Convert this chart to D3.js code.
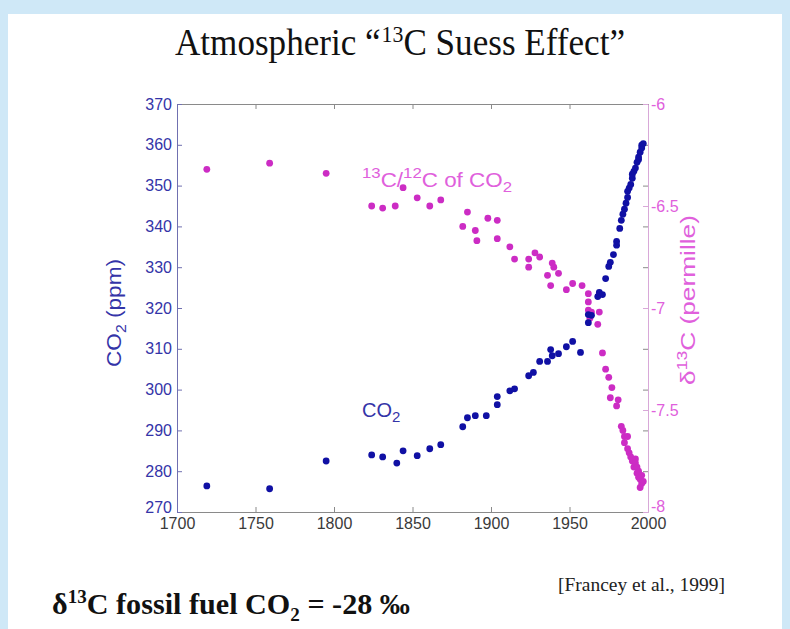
<!DOCTYPE html>
<html>
<head>
<meta charset="utf-8">
<script src="https://cdn.jsdelivr.net/npm/d3@7"></script>
<style>
  html, body { margin: 0; padding: 0; background: #cfe8f7; }
  svg { display: block; }
</style>
</head>
<body>
<svg id="chart" width="790" height="629"></svg>
<script>
// Ice-core / firn / atmospheric CO2 record (ppm)
const co2Years = [1719, 1759, 1795, 1824, 1831, 1840, 1844, 1853, 1861, 1868,
  1882, 1885, 1890, 1897, 1904, 1904, 1912, 1915, 1924, 1927, 1931, 1936, 1938, 1939,
  1943, 1948, 1952, 1957, 1962, 1962, 1964, 1968, 1969, 1971, 1973, 1975, 1976, 1978,
  1980, 1980, 1982, 1983, 1984, 1985, 1986, 1987, 1987, 1988, 1989, 1990, 1990, 1991,
  1992, 1993, 1994, 1994, 1995, 1996, 1996, 1997];
const co2Values = [276.4, 275.7, 282.5, 284.0, 283.5, 282.0, 285.0, 283.8, 285.5, 286.5,
  290.9, 293.1, 293.6, 293.6, 298.3, 296.3, 299.7, 300.2, 303.4, 304.2, 306.9, 306.9, 309.8, 308.3,
  308.8, 310.5, 311.8, 309.1, 316.4, 318.4, 318.2, 322.8, 323.8, 323.3, 327.2, 330.2, 331.2, 333.1,
  335.4, 336.3, 339.5, 341.5, 343.0, 344.2, 345.7, 347.1, 348.6, 349.4, 350.3, 351.8, 352.8, 353.5,
  354.3, 355.7, 356.4, 357.0, 358.2, 359.2, 359.9, 360.3];

// 13C/12C of CO2 expressed as delta-13C (permille)
const d13cYears = [1719, 1759, 1795, 1824, 1831, 1839, 1844, 1853, 1861, 1868,
  1882, 1885, 1890, 1891, 1898, 1904, 1904, 1912, 1915, 1924, 1924, 1928, 1931, 1936,
  1939, 1938, 1940, 1943, 1948, 1952, 1958, 1962, 1962, 1962, 1964, 1963, 1969, 1968,
  1971, 1973, 1975, 1977, 1976, 1981, 1980, 1983, 1984, 1985, 1987, 1985, 1987, 1988,
  1989, 1990, 1992, 1991, 1992, 1994, 1993, 1993, 1994, 1995, 1996, 1995, 1996, 1997];
const d13cValues = [-6.32, -6.29, -6.34, -6.50, -6.51, -6.50, -6.41, -6.46, -6.50, -6.47,
  -6.60, -6.53, -6.62, -6.67, -6.56, -6.57, -6.66, -6.70, -6.76, -6.80, -6.76, -6.73, -6.75, -6.84,
  -6.78, -6.89, -6.80, -6.83, -6.91, -6.88, -6.89, -6.93, -6.97, -7.01, -7.02, -7.05, -7.02, -7.08,
  -7.22, -7.30, -7.34, -7.39, -7.44, -7.45, -7.48, -7.58, -7.60, -7.63, -7.63, -7.66, -7.69, -7.71,
  -7.73, -7.75, -7.74, -7.78, -7.76, -7.80, -7.78, -7.81, -7.83, -7.84, -7.82, -7.88, -7.86, -7.85];

const yearTicks = [1700, 1750, 1800, 1850, 1900, 1950, 2000];
const co2Ticks = [270, 280, 290, 300, 310, 320, 330, 340, 350, 360, 370];
const d13cTicks = [-8, -7.5, -7, -6.5, -6];
const d13cTickLabels = ["-8", "-7.5", "-7", "-6.5", "-6"];

const BLUE = "#1010a4";
const BLUE_TEXT = "#3434a8";
const MAGENTA = "#cc2cc4";
const MAGENTA_TEXT = "#e060dc";

const svg = d3.select("#chart");

// slide background
svg.append("rect").attr("x", 0).attr("y", 0).attr("width", 790).attr("height", 629).attr("fill", "#cfe8f7");
svg.append("rect").attr("x", 8).attr("y", 14).attr("width", 774).attr("height", 615).attr("fill", "#ffffff");

// title
const title = svg.append("text")
  .attr("x", 400).attr("y", 55)
  .attr("text-anchor", "middle")
  .attr("font-family", "Liberation Serif, Times New Roman, serif")
  .attr("font-size", 37)
  .attr("textLength", 450).attr("lengthAdjust", "spacingAndGlyphs")
  .attr("fill", "#111");
title.append("tspan").text("Atmospheric \u201C");
title.append("tspan").attr("font-size", 23).attr("dx", 1).attr("dy", -13).text("13");
title.append("tspan").attr("dy", 13).text("C Suess Effect\u201D");

const plotLeft = 177, plotRight = 648, plotTop = 104, plotBottom = 512;
const x = d3.scaleLinear().domain([1700, 2000]).range([plotLeft, plotRight]);
const yL = d3.scaleLinear().domain([270, 370]).range([plotBottom, plotTop]);
const yR = d3.scaleLinear().domain([-8, -6]).range([plotBottom, plotTop]);

const tickFont = "Liberation Sans, Arial, sans-serif";

function styleAxis(g, lineColor, textColor) {
  g.select(".domain").attr("stroke", lineColor);
  g.selectAll(".tick line").attr("stroke", lineColor);
  g.selectAll(".tick text").attr("fill", textColor)
    .attr("font-family", tickFont).attr("font-size", 16);
}

// top (ticks only)
svg.append("g").attr("transform", `translate(0,${plotTop})`)
  .call(d3.axisTop(x).tickValues(yearTicks).tickSizeInner(-5).tickSizeOuter(0).tickFormat(""))
  .call(g => styleAxis(g, "#8a8a8a", "#333"));

// bottom year axis
svg.append("g").attr("transform", `translate(0,${plotBottom})`)
  .call(d3.axisBottom(x).tickValues(yearTicks).tickSizeInner(-5).tickSizeOuter(0).tickPadding(6).tickFormat(d3.format("d")))
  .call(g => styleAxis(g, "#8a8a8a", "#3a3a3a"));

// left CO2 axis
svg.append("g").attr("transform", `translate(${plotLeft},0)`)
  .call(d3.axisLeft(yL).tickValues(co2Ticks).tickSizeInner(-5).tickSizeOuter(0).tickPadding(5).tickFormat(d3.format("d")))
  .call(g => styleAxis(g, "#7070b0", BLUE_TEXT))
  .call(g => g.selectAll(".tick text").filter(d => d === 270).attr("dy", "0.05em"));

// CO2 ticks repeated on the right edge of the box
svg.append("g").attr("transform", `translate(${plotRight},0)`)
  .call(d3.axisRight(yL).tickValues(co2Ticks.filter(d => d !== 270 && d !== 370)).tickSizeInner(-5).tickSizeOuter(0).tickFormat(""))
  .call(g => g.select(".domain").remove())
  .call(g => g.selectAll(".tick line").attr("stroke", "#8a8a8a"));

// right delta-13C axis
svg.append("g").attr("transform", `translate(${plotRight},0)`)
  .call(d3.axisRight(yR).tickValues(d13cTicks).tickSizeInner(-5).tickSizeOuter(0).tickPadding(3)
    .tickFormat((d, i) => d13cTickLabels[i]))
  .call(g => styleAxis(g, "#d8a8d8", MAGENTA_TEXT))
  .call(g => g.selectAll(".tick text").filter(d => d === -8).attr("dy", "-0.05em"));

// axis titles
const yTitleL = svg.append("text")
  .attr("transform", "translate(121,313) rotate(-90)")
  .attr("text-anchor", "middle")
  .attr("font-family", tickFont).attr("font-size", 20)
  .attr("textLength", 108).attr("lengthAdjust", "spacingAndGlyphs")
  .attr("fill", BLUE_TEXT);
yTitleL.append("tspan").text("CO");
yTitleL.append("tspan").attr("font-size", 14).attr("dy", 5).text("2");
yTitleL.append("tspan").attr("dy", -5).text(" (ppm)");

const yTitleR = svg.append("text")
  .attr("transform", "translate(695,300) rotate(-90)")
  .attr("text-anchor", "middle")
  .attr("font-family", tickFont).attr("font-size", 21)
  .attr("textLength", 170).attr("lengthAdjust", "spacingAndGlyphs")
  .attr("fill", MAGENTA_TEXT);
yTitleR.append("tspan").text("\u03B4");
yTitleR.append("tspan").attr("font-size", 14).attr("dy", -8).text("13");
yTitleR.append("tspan").attr("dy", 8).text("C (permille)");

// series labels
const lblRatio = svg.append("text")
  .attr("x", 362).attr("y", 187)
  .attr("font-family", tickFont).attr("font-size", 20)
  .attr("textLength", 150).attr("lengthAdjust", "spacingAndGlyphs")
  .attr("fill", MAGENTA_TEXT);
lblRatio.append("tspan").attr("font-size", 15).attr("dy", -9).text("13");
lblRatio.append("tspan").attr("dy", 9).text("C/");
lblRatio.append("tspan").attr("font-size", 15).attr("dy", -9).text("12");
lblRatio.append("tspan").attr("dy", 9).text("C of CO");
lblRatio.append("tspan").attr("font-size", 15).attr("dy", 5).text("2");

const lblCo2 = svg.append("text")
  .attr("x", 362).attr("y", 417)
  .attr("font-family", tickFont).attr("font-size", 20)
  .attr("fill", BLUE_TEXT);
lblCo2.append("tspan").text("CO");
lblCo2.append("tspan").attr("font-size", 15).attr("dy", 5).text("2");

// data points
const co2Data = co2Years.map((yr, i) => ({ yr, v: co2Values[i] }));
const d13cData = d13cYears.map((yr, i) => ({ yr, v: d13cValues[i] }));

svg.append("g").selectAll("circle").data(d13cData).join("circle")
  .attr("cx", d => x(d.yr)).attr("cy", d => yR(d.v)).attr("r", 3.4)
  .attr("fill", MAGENTA);

svg.append("g").selectAll("circle").data(co2Data).join("circle")
  .attr("cx", d => x(d.yr)).attr("cy", d => yL(d.v)).attr("r", 3.4)
  .attr("fill", BLUE);

// footnotes
const foot = svg.append("text")
  .attr("x", 52).attr("y", 614)
  .attr("font-family", "Liberation Serif, Times New Roman, serif")
  .attr("font-size", 30).attr("font-weight", "bold")
  .attr("textLength", 358).attr("lengthAdjust", "spacingAndGlyphs")
  .attr("fill", "#111");
foot.append("tspan").text("\u03B4");
foot.append("tspan").attr("font-size", 19).attr("dy", -11).text("13");
foot.append("tspan").attr("dy", 11).text("C fossil fuel CO");
foot.append("tspan").attr("font-size", 19).attr("dy", 7).text("2");
foot.append("tspan").attr("dy", -7).text(" = -28 \u2030");

svg.append("text")
  .attr("x", 558).attr("y", 591)
  .attr("font-family", "Liberation Serif, Times New Roman, serif")
  .attr("font-size", 19)
  .attr("textLength", 167).attr("lengthAdjust", "spacingAndGlyphs")
  .attr("fill", "#222")
  .text("[Francey et al., 1999]");
</script>
</body>
</html>
